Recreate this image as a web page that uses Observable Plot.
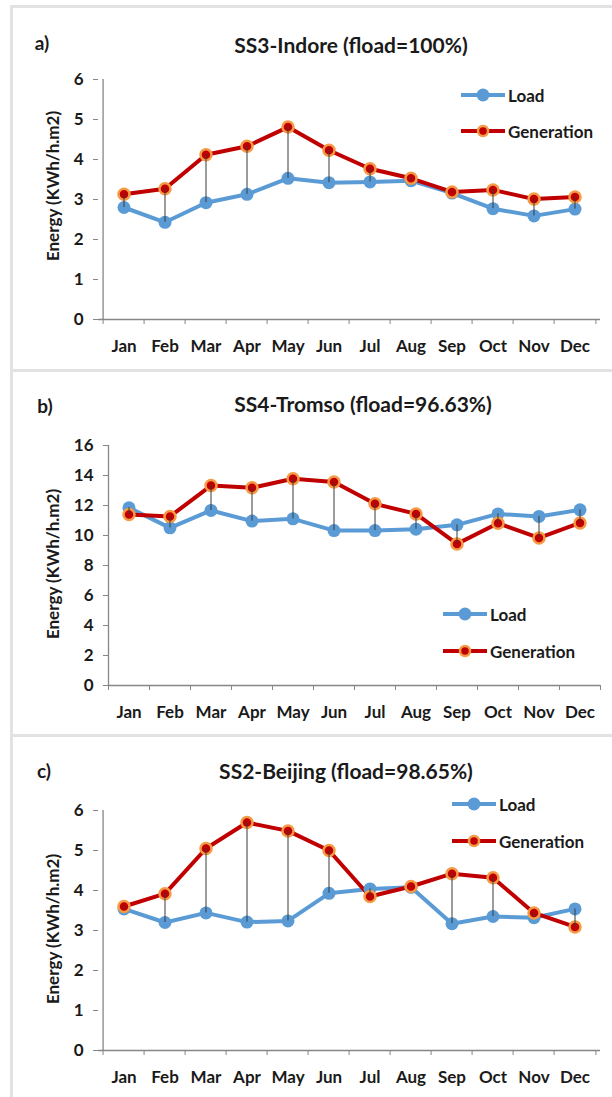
<!DOCTYPE html>
<html>
<head>
<meta charset="utf-8">
<script src="https://cdn.jsdelivr.net/npm/d3@7"></script>
<script src="https://cdn.jsdelivr.net/npm/@observablehq/plot@0.6"></script>
<style>
  body { margin:0; width:612px; height:1097px; position:relative; overflow:hidden; background:#fff;
         font-family: Lato, "Open Sans", sans-serif; font-weight:bold; color:#1a1a1a; }
  .panel { position:absolute; left:10px; width:640px; border:3px solid #e2e2e2; border-right:none;
           background:#fff; box-sizing:border-box; }
  .abs { position:absolute; white-space:nowrap; }
  .ctr { transform: translate(-50%,-50%); }
  .tag { font-size:19px; }
  .title { font-size:21px; }
  .ylab { font-size:17px; transform: translate(-50%,-50%) rotate(-90deg); }
  .leg { display:flex; align-items:center; font-size:17px; transform: translateY(-50%); }
  .leg svg { margin-right:3px; }
  .chart { position:absolute; left:0; }
</style>
</head>
<body>
<div class="panel" style="top:5px;height:367px"></div>
<div class="panel" style="top:369px;height:368px"></div>
<div class="panel" style="top:734px;height:400px"></div>
<div id="root"></div>
<script>
const months = ["Jan","Feb","Mar","Apr","May","Jun","Jul","Aug","Sep","Oct","Nov","Dec"];
const seriesNames = ["Load","Generation"];

// a) SS3-Indore
const loadA = [2.80,2.43,2.92,3.13,3.53,3.42,3.44,3.47,3.16,2.77,2.59,2.76];
const genA  = [3.13,3.27,4.12,4.33,4.81,4.23,3.77,3.53,3.19,3.24,3.01,3.06];
const yTicksA = [0,1,2,3,4,5,6];

// b) SS4-Tromso
const loadB = [11.85,10.51,11.67,10.96,11.11,10.33,10.33,10.42,10.71,11.44,11.27,11.71];
const genB  = [11.40,11.27,13.33,13.18,13.78,13.56,12.11,11.44,9.44,10.82,9.84,10.84];
const yTicksB = [0,2,4,6,8,10,12,14,16];

// c) SS2-Beijing
const loadC = [3.54,3.20,3.44,3.21,3.24,3.93,4.04,4.08,3.17,3.35,3.32,3.54];
const genC  = [3.60,3.92,5.05,5.70,5.49,5.00,3.85,4.10,4.42,4.32,3.44,3.09];
const yTicksC = [0,1,2,3,4,5,6];

const titles = ["SS3-Indore (fload=100%)","SS4-Tromso (fload=96.63%)","SS2-Beijing (fload=98.65%)"];
const tags = ["a)","b)","c)"];
const yLabel = "Energy (KWh/h.m2)";

const LOAD = "#5B9BD5", GEN = "#C00000", GLOW = "#F59A45", AXIS = "#868686";

function makeChart(load, gen, yTicks, ml) {
  const rows = months.map((m, i) => ({month: m, load: load[i], gen: gen[i]}));
  const W = 612, mr = 12;
  const bw = (W - ml - mr) / months.length;
  return Plot.plot({
    width: W, height: 300,
    marginLeft: ml, marginRight: mr, marginTop: 20, marginBottom: 40,
    style: {fontFamily: "Lato, 'Open Sans', sans-serif", fontWeight: "bold", fontSize: "17px",
            color: "#1a1a1a", background: "transparent", overflow: "visible"},
    x: {type: "band", domain: months, padding: 0, axis: null, label: null},
    y: {domain: [yTicks[0], yTicks[yTicks.length - 1]], axis: null, label: null},
    marks: [
      Plot.ruleY([yTicks[0]], {stroke: AXIS, strokeWidth: 1.3}),
      Plot.ruleX([months[0]], {dx: -bw / 2, stroke: AXIS, strokeWidth: 1.3}),
      Plot.axisX({tickSize: 5, tickFormat: () => "", dx: -bw / 2, stroke: AXIS, label: null}),
      Plot.axisX([months[months.length - 1]], {tickSize: 5, tickFormat: () => "", dx: bw / 2, stroke: AXIS, label: null}),
      Plot.axisX({tickSize: 0, tickPadding: 20, fill: "#1a1a1a", label: null}),
      Plot.axisY({ticks: yTicks, tickFormat: d => String(d), tickSize: 5, tickPadding: 10, stroke: AXIS, fill: "#1a1a1a", label: null}),
      Plot.line(rows, {x: "month", y: "load", stroke: LOAD, strokeWidth: 4}),
      Plot.line(rows, {x: "month", y: "gen", stroke: GEN, strokeWidth: 4}),
      Plot.dot(rows, {x: "month", y: "load", r: 6.5, fill: LOAD}),
      Plot.dot(rows, {x: "month", y: "gen", r: 5.5, fill: GEN, stroke: GLOW, strokeWidth: 2.5}),
      Plot.ruleX(rows, {x: "month", y1: "gen", y2: "load", stroke: "#3a3a3a", strokeWidth: 1})
    ]
  });
}

function swatch(isGen) {
  return `<svg width="44" height="15"><line x1="0" x2="44" y1="7.5" y2="7.5" stroke="${isGen ? GEN : LOAD}" stroke-width="4"/>` +
    (isGen ? `<circle cx="22" cy="7.5" r="5" fill="${GEN}" stroke="${GLOW}" stroke-width="2.5"/>`
           : `<circle cx="22" cy="7.5" r="6.5" fill="${LOAD}"/>`) + `</svg>`;
}

const root = document.getElementById("root");
function addText(cls, text, x, y) {
  const d = document.createElement("div");
  d.className = "abs " + cls;
  d.style.left = x + "px"; d.style.top = y + "px";
  d.textContent = text;
  root.appendChild(d);
}
function addLegend(x, y1, y2) {
  [[y1, false, seriesNames[0]], [y2, true, seriesNames[1]]].forEach(([y, g, name]) => {
    const d = document.createElement("div");
    d.className = "abs leg";
    d.style.left = x + "px"; d.style.top = y + "px";
    d.innerHTML = swatch(g) + `<span>${name}</span>`;
    root.appendChild(d);
  });
}

const panels = [
  {load: loadA, gen: genA, ticks: yTicksA, ml: 98, top: 59, tag: [42, 42], title: [351, 44], ylab: [52, 186], leg: [461, 95, 131]},
  {load: loadB, gen: genB, ticks: yTicksB, ml: 108, top: 425, tag: [45, 405], title: [363, 403], ylab: [52, 564], leg: [443, 614, 651]},
  {load: loadC, gen: genC, ticks: yTicksC, ml: 98, top: 790, tag: [44, 770], title: [346, 770], ylab: [52, 929], leg: [452, 804, 841]}
];

panels.forEach((p, i) => {
  const chart = makeChart(p.load, p.gen, p.ticks, p.ml);
  const wrap = document.createElement("div");
  wrap.className = "chart";
  wrap.style.top = p.top + "px";
  wrap.appendChild(chart);
  root.appendChild(wrap);
  addText("tag ctr", tags[i], p.tag[0], p.tag[1]);
  addText("title ctr", titles[i], p.title[0], p.title[1]);
  addText("ylab", yLabel, p.ylab[0], p.ylab[1]);
  addLegend(p.leg[0], p.leg[1], p.leg[2]);
});
</script>
</body>
</html>
